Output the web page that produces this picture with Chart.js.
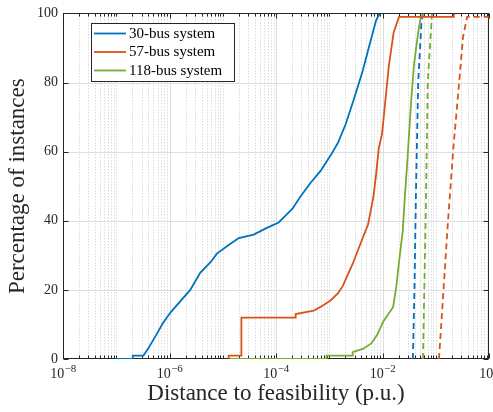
<!DOCTYPE html>
<html>
<head>
<meta charset="utf-8">
<script src="https://cdn.jsdelivr.net/npm/chart.js@4.4.1/dist/chart.umd.min.js"></script>
<style>
  html, body { margin: 0; padding: 0; background: #fff; }
  #wrap { width: 493px; height: 412px; }
</style>
</head>
<body>
<div id="wrap"><canvas id="cdf" width="493" height="412"></canvas></div>
<script>
// distance to feasibility (p.u.) and cumulative % of instances
const bus30X = [9.5e-8, 2.04e-7, 2.04e-7, 3.24e-7, 3.98e-7, 5.89e-7, 7.59e-7, 1.05e-6, 2.45e-6, 3.8e-6, 5.89e-6, 7.76e-6, 1.29e-5, 2.0e-5, 3.8e-5, 6.9e-5, 1.12e-4, 1.51e-4, 2.04e-4, 2.88e-4, 4.47e-4, 6.92e-4, 1.07e-3, 1.45e-3, 2.04e-3, 2.88e-3, 4.27e-3, 5.5e-3, 7.59e-3, 8.9e-3];
const bus30Y = [0, 0, 1, 1, 3, 7.5, 10.5, 13.5, 20, 25, 28, 30.5, 33, 35, 36, 38, 39.5, 41.5, 43.5, 47, 51, 54.5, 59, 62.5, 68, 75, 83.5, 90, 98, 100];
const bus30DashX = [3.72e-2, 3.98e-2, 4.27e-2, 4.68e-2, 5.37e-2, 5.75e-2];
const bus30DashY = [0, 20, 50, 80, 97, 100];

const bus57X = [1.29e-5, 1.29e-5, 2.24e-5, 2.24e-5, 2.34e-4, 2.34e-4, 5.13e-4, 7.59e-4, 1.07e-3, 1.45e-3, 1.78e-3, 2.75e-3, 3.89e-3, 5.37e-3, 6.76e-3, 7.59e-3, 8.51e-3, 9.77e-3, 1.07e-2, 1.32e-2, 1.62e-2, 2.04e-2, 0.219, 0.219];
const bus57Y = [0, 1, 1, 12, 12, 13, 14, 15.5, 17, 19, 21, 27.5, 33.5, 39, 47, 53.5, 61, 65, 71, 85, 94.5, 99, 99, 100];
const bus57DashX = [0.115, 0.17, 0.214, 0.275, 0.324, 0.389, 1];
const bus57DashY = [0, 40, 61, 80, 93, 99, 99];

const bus118X = [1.38e-5, 8.9e-4, 8.9e-4, 2.75e-3, 2.75e-3, 4.37e-3, 6.17e-3, 7.94e-3, 1.05e-2, 1.58e-2, 1.82e-2, 2.04e-2, 2.4e-2, 2.63e-2, 2.95e-2, 3.24e-2, 3.47e-2, 3.89e-2, 4.68e-2, 5.25e-2, 6.03e-2];
const bus118Y = [0, 0, 1, 1, 2, 3, 4.5, 7, 11, 15, 21, 28, 37, 47, 58, 68, 75, 85, 94.5, 99, 100];
const bus118DashX = [5.75e-2, 6.46e-2, 7.08e-2, 8.51e-2];
const bus118DashY = [0, 40, 80, 100];

const seriesLabels = ['30-bus system', '57-bus system', '118-bus system'];
const seriesColors = ['#0072BD', '#D95319', '#77AC30'];
const xTickValues = [1e-8, 1e-6, 1e-4, 1e-2, 1];
const xTickExps = ['\u22128', '\u22126', '\u22124', '\u22122', '0'];
const yTickValues = [0, 20, 40, 60, 80, 100];

const SERIF = '"Liberation Serif", "Times New Roman", serif';
const INK = '#262626';

const pts = (xs, ys) => xs.map((x, i) => ({ x: x, y: ys[i] }));

function line(label, xs, ys, color, dashed) {
  return {
    label: label,
    data: pts(xs, ys),
    borderColor: color,
    backgroundColor: color,
    borderWidth: 1.8,
    borderDash: dashed ? [6, 4] : [],
    pointRadius: 0,
    fill: false,
    tension: 0,
    inLegend: !dashed
  };
}

// minor positions of the log axis: 2..9 x 10^k and the unlabelled decades
function minorXs() {
  const out = [];
  for (let e = -8; e < 0; e++) {
    for (let k = 1; k <= 9; k++) {
      if (k === 1 && e % 2 === 0) continue;
      out.push(k * Math.pow(10, e));
    }
  }
  return out;
}

const matlabAxes = {
  id: 'matlabAxes',
  beforeDatasetsDraw(chart) {
    const { ctx, chartArea: a, scales: { x, y } } = chart;
    ctx.save();
    ctx.lineWidth = 1;

    // minor grid, dotted
    ctx.strokeStyle = '#c9c9c9';
    ctx.setLineDash([1, 2]);
    minorXs().forEach(v => {
      const px = Math.round(x.getPixelForValue(v)) + 0.5;
      ctx.beginPath(); ctx.moveTo(px, a.top); ctx.lineTo(px, a.bottom); ctx.stroke();
    });

    // major grid
    ctx.setLineDash([]);
    ctx.strokeStyle = '#dedede';
    xTickValues.slice(1, -1).forEach(v => {
      const px = Math.round(x.getPixelForValue(v)) + 0.5;
      ctx.beginPath(); ctx.moveTo(px, a.top); ctx.lineTo(px, a.bottom); ctx.stroke();
    });
    yTickValues.slice(1, -1).forEach(v => {
      const py = Math.round(y.getPixelForValue(v)) + 0.5;
      ctx.beginPath(); ctx.moveTo(a.left, py); ctx.lineTo(a.right, py); ctx.stroke();
    });

    // box and inward ticks
    ctx.strokeStyle = INK;
    const L = Math.round(a.left) + 0.5, R = Math.round(a.right) - 0.5;
    const T = Math.round(a.top) + 0.5, B = Math.round(a.bottom) - 0.5;
    ctx.strokeRect(L, T, R - L, B - T);
    const tick = (x0, y0, x1, y1) => { ctx.beginPath(); ctx.moveTo(x0, y0); ctx.lineTo(x1, y1); ctx.stroke(); };
    minorXs().forEach(v => {
      const px = Math.round(x.getPixelForValue(v)) + 0.5;
      tick(px, B, px, B - 3); tick(px, T, px, T + 3);
    });
    xTickValues.forEach(v => {
      const px = Math.round(x.getPixelForValue(v)) + 0.5;
      tick(px, B, px, B - 5); tick(px, T, px, T + 5);
    });
    yTickValues.forEach(v => {
      const py = Math.round(y.getPixelForValue(v)) + 0.5;
      tick(L, py, L + 5, py); tick(R, py, R - 5, py);
    });

    // x tick labels as 10 with a raised exponent
    ctx.fillStyle = INK;
    ctx.textBaseline = 'alphabetic';
    ctx.textAlign = 'left';
    xTickValues.forEach((v, i) => {
      const px = x.getPixelForValue(v);
      ctx.font = '14px ' + SERIF;
      const wBase = ctx.measureText('10').width;
      ctx.font = '11px ' + SERIF;
      const wExp = ctx.measureText(xTickExps[i]).width;
      const x0 = px - (wBase + wExp) / 2;
      ctx.font = '14px ' + SERIF;
      ctx.fillText('10', x0, a.bottom + 18.5);
      ctx.font = '11px ' + SERIF;
      ctx.fillText(xTickExps[i], x0 + wBase + 0.5, a.bottom + 13);
    });
    ctx.restore();
  },
  afterDraw(chart) {
    const { ctx } = chart;
    const items = chart.data.datasets.filter(d => d.inLegend);
    ctx.save();
    ctx.fillStyle = '#fff';
    ctx.fillRect(91.5, 23.5, 143, 58);
    ctx.strokeStyle = INK;
    ctx.lineWidth = 1;
    ctx.strokeRect(91.5, 23.5, 143, 58);
    ctx.font = '15px ' + SERIF;
    ctx.textBaseline = 'middle';
    ctx.textAlign = 'left';
    items.forEach((d, i) => {
      const yy = 33.5 + i * 18.5;
      ctx.strokeStyle = d.borderColor;
      ctx.lineWidth = 1.8;
      ctx.beginPath(); ctx.moveTo(94, yy); ctx.lineTo(126, yy); ctx.stroke();
      ctx.fillStyle = '#000';
      ctx.fillText(d.label, 129, yy + 0.5);
    });
    ctx.restore();
  }
};

new Chart(document.getElementById('cdf'), {
  type: 'line',
  data: {
    datasets: [
      line(seriesLabels[0], bus30X, bus30Y, seriesColors[0], false),
      line(seriesLabels[1], bus57X, bus57Y, seriesColors[1], false),
      line(seriesLabels[2], bus118X, bus118Y, seriesColors[2], false),
      line(seriesLabels[0] + ' (dashed)', bus30DashX, bus30DashY, seriesColors[0], true),
      line(seriesLabels[1] + ' (dashed)', bus57DashX, bus57DashY, seriesColors[1], true),
      line(seriesLabels[2] + ' (dashed)', bus118DashX, bus118DashY, seriesColors[2], true)
    ]
  },
  options: {
    responsive: false,
    animation: false,
    devicePixelRatio: 1,
    layout: { padding: { top: 13, right: 4, left: 0, bottom: 0 } },
    plugins: {
      legend: { display: false },
      tooltip: { enabled: false }
    },
    scales: {
      x: {
        type: 'logarithmic',
        min: 1e-8,
        max: 1,
        grid: { display: false, drawTicks: false },
        border: { display: false },
        ticks: { display: false },
        title: {
          display: true,
          text: 'Distance to feasibility (p.u.)',
          color: INK,
          font: { family: SERIF, size: 23 },
          padding: { top: 0, bottom: 4 }
        },
        afterFit: s => { s.height = 53; }
      },
      y: {
        type: 'linear',
        min: 0,
        max: 100,
        grid: { display: false, drawTicks: false },
        border: { display: false },
        ticks: {
          stepSize: 20,
          padding: 5,
          color: INK,
          font: { family: SERIF, size: 14 }
        },
        title: {
          display: true,
          text: 'Percentage of instances',
          color: INK,
          font: { family: SERIF, size: 23 },
          padding: { top: 4, bottom: 0 }
        },
        afterFit: s => { s.width = 63; }
      }
    }
  },
  plugins: [matlabAxes]
});
</script>
</body>
</html>
